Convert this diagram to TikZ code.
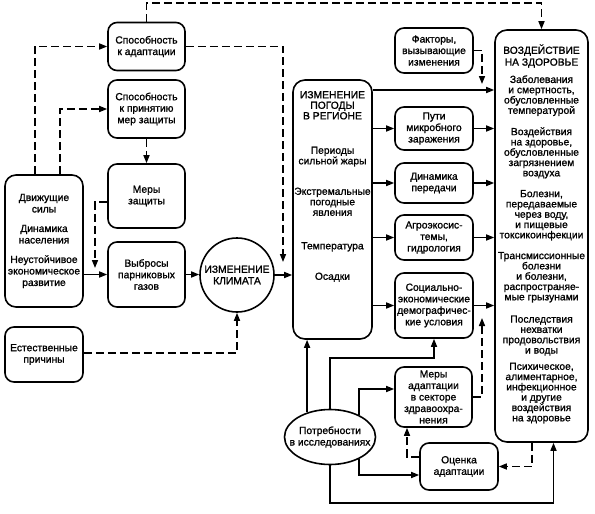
\documentclass[tikz,border=0pt]{standalone}
\usepackage{fontspec}
\setmainfont{Liberation Sans}[FakeBold=1.2]
\usetikzlibrary{arrows.meta,shapes.geometric,calc}
\begin{document}
\begin{tikzpicture}[x=1pt,y=-1pt,
  every node/.style={font=\fontsize{10.3}{11.5}\selectfont},
  box/.style={draw,line width=1.6pt,rounded corners=9pt,align=center,inner sep=1pt},
  txt/.style={align=center,inner sep=0pt},
  arr/.style={line width=1.5pt,-{Triangle[length=8pt,width=6pt]}},
  darr/.style={arr,dash pattern=on 8pt off 4pt},
  dline/.style={line width=1.5pt,dash pattern=on 8pt off 4pt}]
\useasboundingbox (0,0) rectangle (595,514);

% left column
\node[box,minimum width=77pt,minimum height=48pt] (adapt) at (146.5,46.5) {Способность\\к адаптации};
\node[box,minimum width=77pt,minimum height=58pt] (protect) at (146.5,109) {Способность\\к принятию\\мер защиты};
\node[box,minimum width=77pt,minimum height=64pt] (measures) at (146.5,196) {Меры\\защиты};
\node[box,minimum width=77pt,minimum height=65pt] (emis) at (146.5,274.5) {Выбросы\\парниковых\\газов};
\node[box,minimum width=78pt,minimum height=132pt,rounded corners=11pt] (driving) at (44,241) {Движущие\\силы\\[8pt]Динамика\\населения\\[8pt]Неустойчивое\\экономическое\\развитие};
\node[box,minimum width=78pt,minimum height=55pt] (natural) at (44,354.5) {Естественные\\причины};
\node[draw,circle,line width=1.6pt,minimum size=74pt,inner sep=0pt,align=center] (climate) at (237,275) {ИЗМЕНЕНИЕ\\КЛИМАТА};

% weather
\node[box,minimum width=79pt,minimum height=259pt,rounded corners=12pt] (weather) at (332.5,209.5) {};
\node[txt,font=\fontsize{10.3}{10.5}\selectfont] (weathertxt) at (332.5,186.5) {ИЗМЕНЕНИЕ\\ПОГОДЫ\\В РЕГИОНЕ\\[24pt]Периоды\\сильной жары\\[20pt]Экстремальные\\погодные\\явления\\[23pt]Температура\\[20pt]Осадки};

% middle column
\node[box,minimum width=78pt,minimum height=45pt] (factors) at (434,50.5) {Факторы,\\вызывающие\\изменения};
\node[box,minimum width=78pt,minimum height=43pt] (path) at (434,128.5) {Пути\\микробного\\заражения};
\node[box,minimum width=78pt,minimum height=40pt] (dyn) at (434,183) {Динамика\\передачи};
\node[box,minimum width=78pt,minimum height=45pt] (agro) at (434,237.5) {Агроэкосис-\\темы,\\гидрология};
\node[box,minimum width=78pt,minimum height=65pt] (social) at (434,305.5) {Социально-\\экономические\\демографичес-\\кие условия};
\node[box,minimum width=77pt,minimum height=60pt] (hmeas) at (433.5,397) {Меры\\адаптации\\в секторе\\здравоохра-\\нения};
\node[box,minimum width=78pt,minimum height=47pt] (assess) at (459,466.5) {Оценка\\адаптации};
\node[draw,ellipse,line width=1.6pt,minimum width=91pt,minimum height=55pt,inner sep=0pt] (needs) at (330,437) {};
\node[txt] (needstxt) at (needs) {Потребности\\в исследованиях};

% health
\node[box,minimum width=93pt,minimum height=412pt,rounded corners=12pt] (health) at (541.5,236) {};
\node[txt,font=\fontsize{10.3}{10.3}\selectfont] (healthtxt) at (541.5,234) {ВОЗДЕЙСТВИЕ\\[1.5pt]НА ЗДОРОВЬЕ\\[7pt]Заболевания\\и смертность,\\обусловленные\\температурой\\[11pt]Воздействия\\на здоровье,\\обусловленные\\загрязнением\\воздуха\\[10.5pt]Болезни,\\передаваемые\\через воду,\\и пищевые\\токсикоинфекции\\[10.5pt]Трансмиссионные\\болезни\\и болезни,\\распространяе-\\мые грызунами\\[12pt]Последствия\\нехватки\\продовольствия\\и воды\\[6pt]Психическое,\\алиментарное,\\инфекционное\\и другие\\воздействия\\на здоровье};

% helper coordinates
\coordinate (ytop) at (0,3);
\coordinate (ybot) at (0,503);
\coordinate (row0) at (0,90);
\coordinate (adaptend) at (283,262);
\coordinate (measend) at (95,268);
\coordinate (factend) at (482,84);
\coordinate (hmend) at (482,318);

% left connectors
\draw[darr] ([xshift=-9pt]driving.north) |- (adapt.west);
\draw[darr] ([xshift=16pt]driving.north) |- (protect.west);
\draw[darr] (adapt.east) -| (adaptend);
\draw[darr] (adapt.north) |- (ytop -| health.north) -- (health.north);
\draw[darr] (protect) -- (measures);
\draw[darr] ([yshift=-6pt]measures.west) -| (measend);
\draw[arr] (emis.west -| driving.east) -- (emis.west);
\draw[arr] (emis.east) -- (emis.east -| climate.west);
\draw[arr] (climate.east) -- (climate.east -| weather.west);
\draw[darr] ([yshift=1.5pt]natural.east) -| (climate.south);

% weather to health
\draw[darr] (factors.east) -| (factend);
\draw[arr] (weather.east |- row0) -- (health.west |- row0);
\foreach \b in {path,dyn,agro,social}{
  \draw[arr] (weather.east |- \b.west) -- (\b.west);
  \draw[arr] (\b.east) -- (health.west |- \b.east);
}

% bottom connectors
\draw[arr] (needs.133) -- (needs.133 |- weather.south);
\draw[arr] (needs.north) |- ([yshift=-19pt]social.south) -- (social.south);
\draw[arr] (needs.37) |- ([yshift=8pt]hmeas.west);
\draw[arr] (needs.-37) |- ([yshift=-8.5pt]assess.west);
\draw[arr] (needs.south) -- (needs.south |- ybot) -| ([xshift=12pt]health.south);
\draw[darr] ([xshift=-9.5pt]health.south) |- (assess.east);
\draw[darr] ([yshift=9.5pt]assess.west) -| ([xshift=-26.5pt]hmeas.south);
\draw[darr] (hmeas.east) -| (hmend);
\end{tikzpicture}
\end{document}
